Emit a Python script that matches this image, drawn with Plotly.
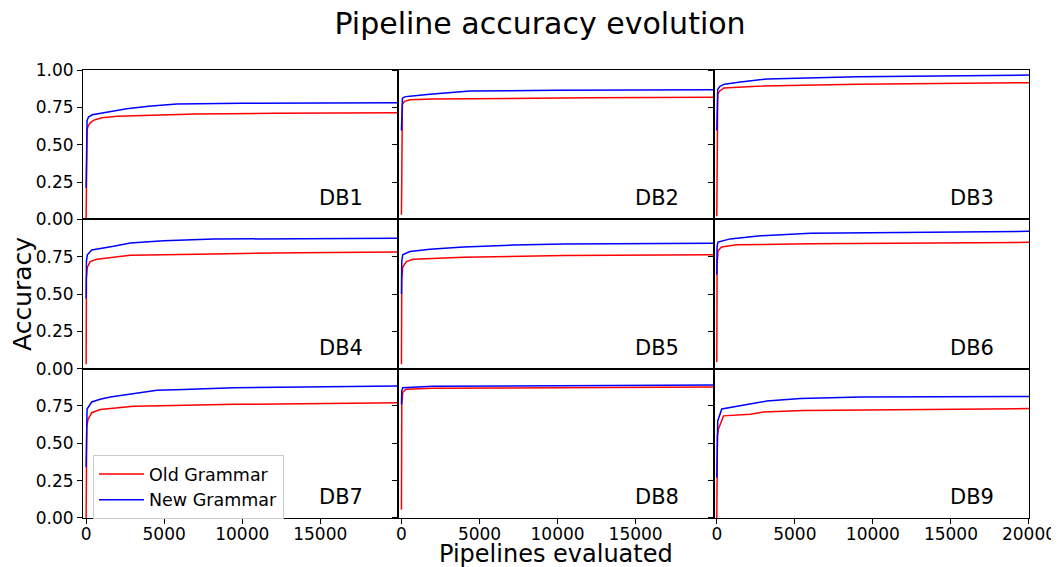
import plotly.graph_objects as go

# ---------------- data ----------------
db_names = ["DB1", "DB2", "DB3", "DB4", "DB5", "DB6", "DB7", "DB8", "DB9"]

db1_old_x = [0, 20, 60, 150, 300, 470, 1000, 2000, 4000, 7000, 12000, 20000]
db1_old_y = [0.00, 0.57, 0.60, 0.63, 0.65, 0.663, 0.68, 0.69, 0.697, 0.705, 0.71, 0.714]
db1_new_x = [0, 20, 60, 150, 400, 1500, 2600, 4000, 5800, 10000, 20000]
db1_new_y = [0.21, 0.60, 0.66, 0.685, 0.70, 0.72, 0.74, 0.757, 0.773, 0.777, 0.781]

db2_old_x = [0, 20, 60, 200, 540, 2000, 6000, 12000, 20000]
db2_old_y = [0.03, 0.70, 0.77, 0.79, 0.80, 0.805, 0.81, 0.814, 0.817]
db2_new_x = [0, 20, 60, 200, 540, 1820, 4400, 10000, 20000]
db2_new_y = [0.595, 0.78, 0.81, 0.82, 0.825, 0.837, 0.859, 0.865, 0.868]

db3_old_x = [0, 20, 60, 200, 450, 2600, 9000, 20000]
db3_old_y = [0.02, 0.75, 0.84, 0.86, 0.88, 0.892, 0.904, 0.915]
db3_new_x = [0, 20, 60, 200, 500, 1520, 3240, 9000, 20000]
db3_new_y = [0.595, 0.84, 0.87, 0.89, 0.905, 0.92, 0.94, 0.955, 0.966]

db4_old_x = [0, 20, 80, 260, 690, 1760, 2830, 8190, 13550, 20000]
db4_old_y = [0.03, 0.60, 0.68, 0.717, 0.733, 0.744, 0.76, 0.768, 0.777, 0.782]
db4_new_x = [0, 20, 80, 360, 1760, 2830, 4970, 8190, 20000]
db4_new_y = [0.47, 0.72, 0.762, 0.795, 0.82, 0.842, 0.857, 0.868, 0.873]

db5_old_x = [0, 20, 80, 320, 750, 3970, 10400, 20000]
db5_old_y = [0.03, 0.60, 0.68, 0.717, 0.733, 0.746, 0.757, 0.762]
db5_new_x = [0, 20, 80, 540, 1820, 3970, 7180, 10400, 20000]
db5_new_y = [0.50, 0.72, 0.762, 0.784, 0.80, 0.815, 0.828, 0.835, 0.84]

db6_old_x = [0, 20, 80, 300, 1290, 6000, 20000]
db6_old_y = [0.045, 0.70, 0.79, 0.815, 0.829, 0.837, 0.846]
db6_new_x = [0, 20, 80, 860, 2790, 6000, 20000]
db6_new_y = [0.63, 0.82, 0.848, 0.869, 0.89, 0.906, 0.92]

db7_old_x = [0, 10, 40, 120, 360, 900, 1970, 3040, 5600, 9470, 20000]
db7_old_y = [0.0, 0.33, 0.61, 0.66, 0.705, 0.727, 0.739, 0.748, 0.754, 0.761, 0.772]
db7_new_x = [0, 10, 60, 360, 900, 1540, 3040, 4540, 6260, 9470, 20000]
db7_new_y = [0.34, 0.60, 0.73, 0.777, 0.795, 0.81, 0.835, 0.855, 0.86, 0.873, 0.884]

db8_old_x = [0, 20, 80, 280, 2000, 20000]
db8_old_y = [0.055, 0.75, 0.84, 0.862, 0.869, 0.877]
db8_new_x = [0, 20, 80, 2000, 20000]
db8_new_y = [0.76, 0.85, 0.873, 0.882, 0.89]

db9_old_x = [0, 10, 40, 100, 430, 2140, 3000, 5570, 20000]
db9_old_y = [0.0, 0.27, 0.55, 0.595, 0.684, 0.695, 0.71, 0.72, 0.733]
db9_new_x = [0, 20, 60, 320, 860, 2140, 3200, 5360, 9220, 20000]
db9_new_y = [0.27, 0.55, 0.65, 0.73, 0.74, 0.76, 0.783, 0.80, 0.81, 0.814]

series_names = ["Old Grammar", "New Grammar"]
series_colors = ["red", "blue"]

x_ticks_inner = [0, 5000, 10000, 15000]
x_ticks_last = [0, 5000, 10000, 15000, 20000]
y_ticks_top = [0.0, 0.25, 0.5, 0.75, 1.0]
y_ticks_rest = [0.0, 0.25, 0.5, 0.75]

panels = [
    (db1_old_x, db1_old_y, db1_new_x, db1_new_y),
    (db2_old_x, db2_old_y, db2_new_x, db2_new_y),
    (db3_old_x, db3_old_y, db3_new_x, db3_new_y),
    (db4_old_x, db4_old_y, db4_new_x, db4_new_y),
    (db5_old_x, db5_old_y, db5_new_x, db5_new_y),
    (db6_old_x, db6_old_y, db6_new_x, db6_new_y),
    (db7_old_x, db7_old_y, db7_new_x, db7_new_y),
    (db8_old_x, db8_old_y, db8_new_x, db8_new_y),
    (db9_old_x, db9_old_y, db9_new_x, db9_new_y),
]

# ---------------- figure ----------------
OFF = 8  # default page body margin
W, H = 1059 - OFF, 567 - OFF
# plot area in window pixels: x 83..1029, y 70..518
ML = 83 - OFF
MR = W - (1029 - OFF)
MT = 70 - OFF
MB = H - (518 - OFF)
PW = W - ML - MR
PH = H - MT - MB
FONT = "DejaVu Sans"

fig = go.Figure()
layout = {}
annotations = []

for i, (ox, oy, nx, ny) in enumerate(panels):
    r, c = divmod(i, 3)
    n = i + 1
    xa = "x" if n == 1 else f"x{n}"
    ya = "y" if n == 1 else f"y{n}"
    for k, (xs, ys) in enumerate([(ox, oy), (nx, ny)]):
        fig.add_trace(go.Scatter(
            x=xs, y=ys, mode="lines",
            line=dict(color=series_colors[k], width=1.5),
            name=series_names[k], legendgroup=series_names[k],
            showlegend=(n == 7), xaxis=xa, yaxis=ya,
        ))
    xd = [c / 3, (c + 1) / 3]
    yd = [1 - (r + 1) / 3, 1 - r / 3]
    bottom = r == 2
    left = c == 0
    xkey = "xaxis" if n == 1 else f"xaxis{n}"
    ykey = "yaxis" if n == 1 else f"yaxis{n}"
    layout[xkey] = dict(
        domain=xd, anchor=ya, range=[-200, 20000],
        tickvals=(x_ticks_last if c == 2 else x_ticks_inner),
        tickformat="d",
        showticklabels=bottom, ticks="outside" if bottom else "",
        ticklen=5, tickcolor="black", ticklabelstandoff=-4,
        showline=True, linecolor="black", linewidth=1, mirror=True,
        showgrid=False, zeroline=False, automargin=False,
        tickfont=dict(family=FONT, size=17, color="black"),
    )
    layout[ykey] = dict(
        domain=yd, anchor=xa, range=[0, 1],
        tickvals=(y_ticks_top if r == 0 else y_ticks_rest),
        tickformat=".2f",
        showticklabels=left, ticks="outside",
        ticklen=5, tickcolor="black",
        showline=True, linecolor="black", linewidth=1, mirror=True,
        showgrid=False, zeroline=False, automargin=False,
        tickfont=dict(family=FONT, size=17, color="black"),
    )
    annotations.append(dict(
        text=db_names[i], xref=f"{xa} domain", yref=f"{ya} domain",
        x=1 - 33 / 315, y=21 / 149, xanchor="right", yanchor="middle",
        showarrow=False, font=dict(family=FONT, size=21, color="black"),
    ))

annotations.append(dict(
    text="Accuracy", xref="paper", yref="paper",
    x=((22 - OFF) - ML) / PW, y=0.5, xanchor="center", yanchor="middle",
    textangle=-90, showarrow=False,
    font=dict(family=FONT, size=25, color="black"),
))
annotations.append(dict(
    text="Pipelines evaluated", xref="paper", yref="paper",
    x=0.5, y=-((554 - OFF) - (H - MB)) / PH, xanchor="center", yanchor="middle",
    showarrow=False, font=dict(family=FONT, size=24, color="black"),
))

fig.update_layout(
    width=W, height=H,
    margin=dict(l=ML, r=MR, t=MT, b=MB, autoexpand=False),
    paper_bgcolor="white", plot_bgcolor="white",
    title=dict(text="Pipeline accuracy evolution", x=(540 - OFF) / W, xanchor="center",
               y=1 - (23 - OFF) / H, yanchor="middle",
               font=dict(family=FONT, size=30, color="black")),
    showlegend=True,
    legend=dict(
        x=(93 - 83) / PW, y=(518 - 455) / PH, xanchor="left", yanchor="top",
        bgcolor="rgba(255,255,255,0.85)", bordercolor="#cccccc", borderwidth=1,
        font=dict(family=FONT, size=17.5, color="black"),
        tracegroupgap=0, itemwidth=45,
    ),
    annotations=annotations,
    **layout,
)

fig.write_html("out.html")
